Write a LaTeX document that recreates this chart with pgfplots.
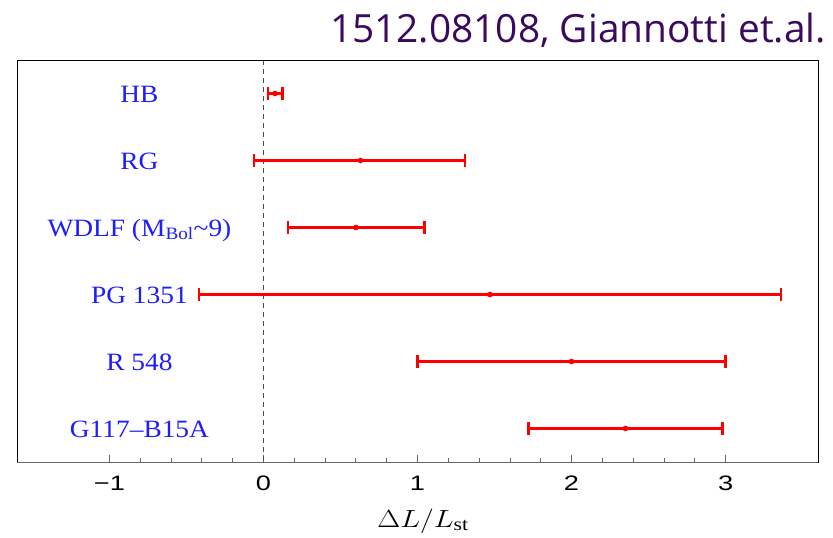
\documentclass[border=0pt]{standalone}
\usepackage{fontspec}
\setmainfont{Liberation Serif}
\newfontfamily\labelfont[FakeStretch=1.1]{Liberation Serif}
\newfontfamily\tickfont[FakeStretch=1.3]{Liberation Sans}
\newfontfamily\titlefont{Open Sans}
\usepackage{graphicx}
\usepackage{pgfplots}
\pgfplotsset{compat=1.18}
\usepackage{pgfplotstable}

\definecolor{titlepurple}{RGB}{58,10,94}
\definecolor{labelblue}{RGB}{30,30,250}
\definecolor{barred}{RGB}{255,0,0}

% central value, row, lower and upper uncertainty of Delta L / L_st
\pgfplotstableread{
x     y  minus  plus
0.075 6  0.045  0.048
0.63  5  0.69   0.68
0.60  4  0.44   0.445
1.47  3  1.89   1.89
2.00  2  1.00   1.00
2.35  1  0.63   0.63
}\measurements

\begin{document}
\begin{tikzpicture}
\begin{axis}[
  scale only axis, width=801bp, height=402bp,
  at={(0,0)}, anchor=south west,
  xmin=-1.6, xmax=3.6, ymin=0.5, ymax=6.5,
  xtick={-1,0,1,2,3}, xticklabels={−1,0,1,2,3},
  minor x tick num=4, ytick=\empty,
  xtick pos=bottom, tick align=inside,
  major tick length=7bp, minor tick length=4bp,
  tick style={black!60, line width=0.8bp},
  axis line style={line width=1bp},
  xticklabel style={font=\tickfont\fontsize{21}{21}\selectfont, anchor=base, yshift=-28bp},
  clip=false,
]
\addplot[black!70, line width=1.1bp, dash pattern=on 5bp off 4bp]
  coordinates {(0,0.52) (0,6.48)};
\addplot[barred, only marks, mark=*, mark size=2.6bp,
  error bars/.cd, x dir=both, x explicit,
  error bar style={line width=2.3bp, barred},
  error mark options={barred, line width=2.3bp, mark size=6.5bp, rotate=90}]
  table[x=x, y=y, x error plus=plus, x error minus=minus] {\measurements};

\begin{scope}[every node/.style={labelblue, anchor=base, yshift=-8.5bp,
    font=\labelfont\fontsize{25}{25}\selectfont}]
\node at (axis cs:-0.805,6) {HB};
\node at (axis cs:-0.805,5) {RG};
\node at (axis cs:-0.805,4) {WDLF (M\textsubscript{Bol}\textasciitilde9)};
\node at (axis cs:-0.805,3) {PG 1351};
\node at (axis cs:-0.805,2) {R 548};
\node at (axis cs:-0.805,1) {G117–B15A};
\end{scope}
\draw[black!60, line width=1bp] (rel axis cs:0,0) -- (rel axis cs:1,0);
\end{axis}
\node[anchor=base, font=\fontsize{26}{26}\selectfont] at (406bp,-65bp)
  {\scalebox{1.2}[1]{$\Delta L/L_{\mathrm{st}}$}};
\node[anchor=base east, inner sep=0pt, text=titlepurple,
  font=\titlefont\fontsize{39}{39}\selectfont] at (809bp,419bp)
  {1512.08108, Giannotti et.al.};
\pgfresetboundingbox
\useasboundingbox (-17bp,-76bp) rectangle (816bp,462bp);
\end{tikzpicture}
\end{document}
